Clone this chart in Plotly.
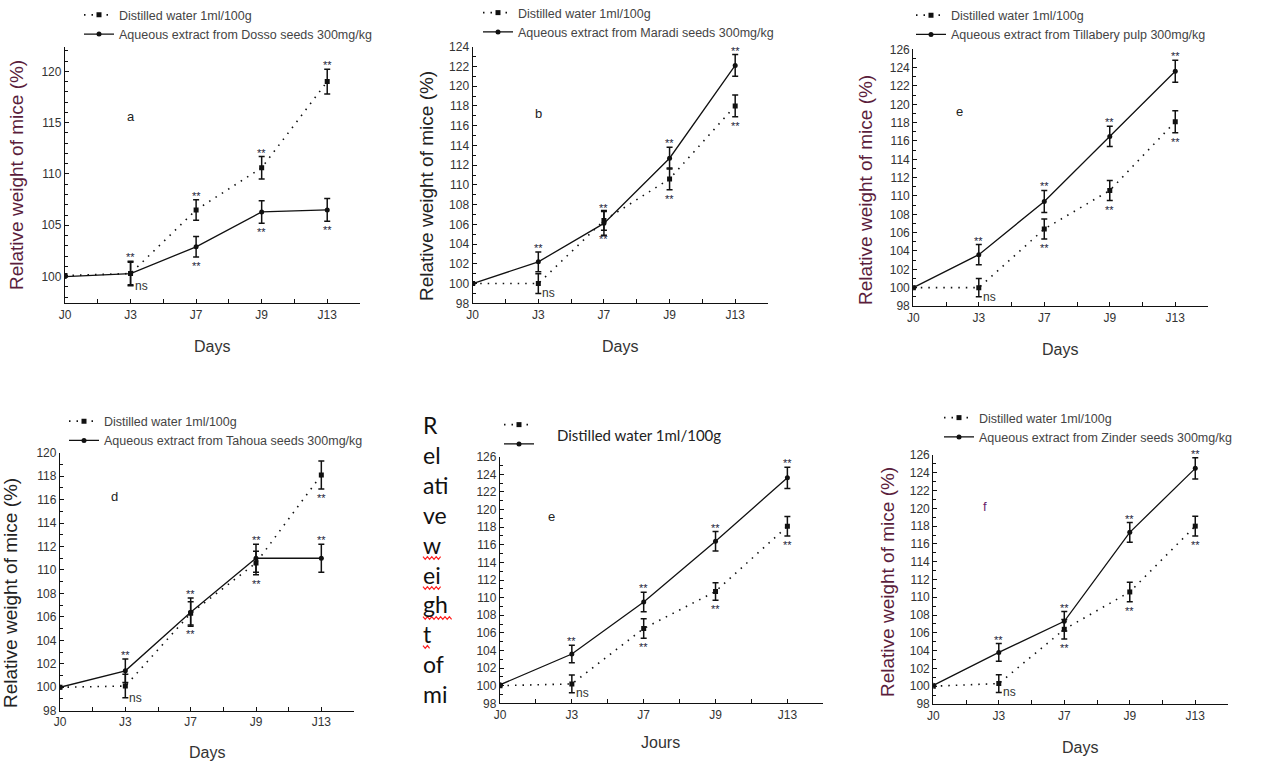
import plotly.graph_objects as go

W, H = 1280, 762

days = ["J0", "J3", "J7", "J9", "J13"]
day_idx = [0, 1, 2, 3, 4]

# Panel a - Dosso seeds
water_a = [100.1, 100.3, 106.5, 110.6, 119.0]
water_a_err = [0, 1.2, 1.0, 1.1, 1.2]
extract_a = [100.0, 100.3, 102.9, 106.3, 106.5]
extract_a_err = [0, 1.1, 1.0, 1.1, 1.1]

# Panel b - Maradi seeds
water_b = [100.0, 100.0, 106.4, 110.6, 118.0]
water_b_err = [0, 1.0, 1.0, 1.1, 1.1]
extract_b = [100.0, 102.2, 106.1, 112.7, 122.1]
extract_b_err = [0, 1.0, 1.2, 1.1, 1.1]

# Panel "e" (top right) - Tillabery pulp
water_c = [100.0, 100.0, 106.4, 110.6, 118.1]
water_c_err = [0, 1.0, 1.1, 1.1, 1.2]
extract_c = [100.0, 103.6, 109.4, 116.5, 123.6]
extract_c_err = [0, 1.1, 1.2, 1.1, 1.2]

# Panel d - Tahoua seeds
water_d = [100.0, 100.1, 106.3, 110.6, 118.1]
water_d_err = [0, 1.0, 1.0, 1.0, 1.2]
extract_d = [100.0, 101.4, 106.4, 111.0, 111.0]
extract_d_err = [0, 1.0, 1.2, 1.2, 1.2]

# Panel "e" (bottom middle)
water_e = [100.0, 100.2, 106.5, 110.7, 118.1]
water_e_err = [0, 1.0, 1.1, 1.0, 1.1]
extract_e = [100.1, 103.6, 109.5, 116.4, 123.6]
extract_e_err = [0, 1.0, 1.1, 1.1, 1.2]

# Panel f - Zinder seeds
water_f = [100.0, 100.3, 106.4, 110.6, 118.0]
water_f_err = [0, 1.0, 1.1, 1.1, 1.1]
extract_f = [100.1, 103.8, 107.3, 117.3, 124.5]
extract_f_err = [0, 1.0, 1.1, 1.1, 1.2]

water_label = "Distilled water 1ml/100g"
extract_labels = [
    "Aqueous extract from Dosso seeds 300mg/kg",
    "Aqueous extract from Maradi seeds 300mg/kg",
    "Aqueous extract from Tillabery pulp 300mg/kg",
    "Aqueous extract from Tahoua seeds 300mg/kg",
    " ",
    "Aqueous extract from Zinder seeds 300mg/kg",
]
panel_letters = ["a", "b", "e", "d", "e", "f"]
stars_std = [(1, "e", "up"), (2, "e", "up"), (2, "w", "down"), (3, "e", "up"),
             (3, "w", "down"), (4, "e", "up"), (4, "w", "down")]
stars_a = [(1, "w", "up"), (2, "w", "up"), (2, "e", "down"), (3, "w", "up"),
           (3, "e", "down"), (4, "w", "up"), (4, "e", "down")]

# ---- layout geometry (pixels) ----
panels = [
    dict(water=water_a, werr=water_a_err, ext=extract_a, eerr=extract_a_err,
         box=(65, 360, 46.7, 303.3), yr=[97.4, 122.4], dt=5, t0=100,
         leg=(79, 0.2), letter=(1.0, 115.6), stars=stars_a,
         ytitle=(17, 175, "#5a1d3c"), xtitle=(212, 347, "Days")),
    dict(water=water_b, werr=water_b_err, ext=extract_b, eerr=extract_b_err,
         box=(472.7, 768, 46.7, 303.3), yr=[98, 124], dt=2, t0=98,
         leg=(478, -2.0), letter=(1.0, 117.2), stars=stars_std,
         ytitle=(426, 186, "#222222"), xtitle=(620, 347, "Days")),
    dict(water=water_c, werr=water_c_err, ext=extract_c, eerr=extract_c_err,
         box=(913.3, 1208, 49.3, 306), yr=[98, 126], dt=2, t0=98,
         leg=(911, 0.5), letter=(0.71, 119.2), stars=stars_std,
         ytitle=(865, 190, "#5a1d3c"), xtitle=(1060, 349, "Days")),
    dict(water=water_d, werr=water_d_err, ext=extract_d, eerr=extract_d_err,
         box=(60, 354, 452.7, 710.7), yr=[98, 120], dt=2, t0=98,
         leg=(64, 406.5), letter=(0.84, 116.25), stars=stars_std,
         ytitle=(10, 593, "#222222"), xtitle=(207, 752, "Days")),
    dict(water=water_e, werr=water_e_err, ext=extract_e, eerr=extract_e_err,
         box=(500, 823.3, 456.7, 703.3), yr=[98, 126], dt=2, t0=98,
         leg=(499, 410), letter=(0.72, 119.2), stars=stars_std,
         ytitle=None, xtitle=(660, 742, "Jours")),
    dict(water=water_f, werr=water_f_err, ext=extract_f, eerr=extract_f_err,
         box=(933.3, 1228, 455, 704), yr=[98, 126], dt=2, t0=98,
         leg=(939, 403), letter=(0.79, 120.2), stars=stars_std,
         ytitle=(887, 582, "#5a1d3c"), xtitle=(1080, 747, "Days")),
]

INK = "#111111"
TICKFONT = dict(family="Liberation Sans, Arial", size=12, color="#333333")

fig = go.Figure()
annotations = []
shapes = []
layout = dict(width=W, height=H, margin=dict(l=0, r=0, t=0, b=0, autoexpand=False),
              autosize=False, paper_bgcolor="white", plot_bgcolor="white", showlegend=True)

for i, p in enumerate(panels):
    n = "" if i == 0 else str(i + 1)
    xa, ya = "x" + n, "y" + n
    legname = "legend" + n
    l, r, t, b = p["box"]
    layout["xaxis" + n] = dict(
        domain=[l / W, r / W], anchor=ya, range=[0, 4.5],
        tickmode="array", tickvals=day_idx, ticktext=days,
        ticks="inside", ticklen=4, tickwidth=1, tickcolor=INK,
        minor=dict(dtick=0.5, tick0=0, ticks="inside", ticklen=4, tickcolor=INK),
        showline=True, linecolor=INK, linewidth=1.3, showgrid=False, zeroline=False,
        tickfont=TICKFONT, fixedrange=True, automargin=False)
    layout["yaxis" + n] = dict(
        domain=[1 - b / H, 1 - t / H], anchor=xa, range=p["yr"],
        tickmode="linear", dtick=p["dt"], tick0=p["t0"],
        ticks="inside", ticklen=4, tickwidth=1, tickcolor=INK,
        minor=dict(dtick=1, ticks="inside", ticklen=3, tickcolor=INK),
        showline=True, linecolor=INK, linewidth=1.3, showgrid=False, zeroline=False,
        tickfont=TICKFONT, fixedrange=True, automargin=False)
    lx, ly = p["leg"]
    layout[legname] = dict(
        x=lx / W, y=1 - ly / H, xanchor="left", yanchor="top",
        bgcolor="rgba(0,0,0,0)", borderwidth=0, tracegroupgap=0,
        font=dict(family="Liberation Sans, Arial", size=12.5, color="#444444"))

    fig.add_trace(go.Scatter(
        x=day_idx, y=p["water"], xaxis=xa, yaxis=ya, legend=legname,
        name=(water_label if i != 4 else " "), mode="lines+markers",
        line=dict(color=INK, width=1.6, dash="1.5px,6px"),
        marker=dict(symbol="square", size=5, color=INK),
        error_y=dict(type="data", array=p["werr"], visible=True, color=INK,
                     thickness=1.5, width=3)))
    fig.add_trace(go.Scatter(
        x=day_idx, y=p["ext"], xaxis=xa, yaxis=ya, legend=legname,
        name=extract_labels[i], mode="lines+markers",
        line=dict(color=INK, width=1.3),
        marker=dict(symbol="circle", size=5, color=INK),
        error_y=dict(type="data", array=p["eerr"], visible=True, color=INK,
                     thickness=1.5, width=3)))

    # significance marks
    for (k, s, d) in p["stars"]:
        vals, errs = (p["water"], p["werr"]) if s == "w" else (p["ext"], p["eerr"])
        yv = vals[k] + errs[k] if d == "up" else vals[k] - errs[k]
        annotations.append(dict(
            x=k, y=yv, xref=xa, yref=ya, text="**", showarrow=False,
            xanchor="center", yanchor="middle", yshift=(4 if d == "up" else -9),
            font=dict(family="Liberation Sans, Arial", size=11, color="#1b1b3a")))
    annotations.append(dict(
        x=1, y=p["water"][1] - p["werr"][1], xref=xa, yref=ya, text="ns",
        showarrow=False, xanchor="left", yanchor="middle", xshift=2,
        font=dict(family="Liberation Sans, Arial", size=12, color="#333333")))

    # panel letter
    lxv, lyv = p["letter"]
    annotations.append(dict(
        x=lxv, y=lyv, xref=xa, yref=ya, text=panel_letters[i], showarrow=False,
        xanchor="center", yanchor="middle",
        font=dict(family="Liberation Sans, Arial", size=13,
                  color=("#6a1f6a" if panel_letters[i] == "f" else "#222222"))))

    # axis titles
    tx, ty, ttxt = p["xtitle"]
    annotations.append(dict(
        x=tx / W, y=1 - ty / H, xref="paper", yref="paper", text=ttxt,
        xanchor="center", yanchor="middle", showarrow=False,
        font=dict(family="Liberation Sans, Arial", size=16, color="#333333")))
    if p["ytitle"]:
        yx, yy, col = p["ytitle"]
        annotations.append(dict(
            x=yx / W, y=1 - yy / H, xref="paper", yref="paper",
            xanchor="center", yanchor="middle",
            text="Relative weight of mice (%)", textangle=-90, showarrow=False,
            font=dict(family="Liberation Sans, Arial", size=19, color=col)))

# Bottom-middle panel quirks: broken vertical y title and single legend text
annotations.append(dict(
    x=421 / W, y=1 - 409 / H, xref="paper", yref="paper", xanchor="left", yanchor="top",
    align="left", showarrow=False,
    text="R<br>el<br>ati<br>ve<br>w<br>ei<br>gh<br>t<br>of<br>mi",
    font=dict(family="Lato, Open Sans", size=23, color="#111111")))
annotations.append(dict(
    x=555 / W, y=1 - 435 / H, xref="paper", yref="paper", xanchor="left", yanchor="middle",
    showarrow=False, text="Distilled water 1ml/100g",
    font=dict(family="Lato, Open Sans", size=15, color="#222222")))

# red spell-check squiggles under "w", "ei", "gh", "t"
for (x0, x1, yy) in [(423, 441, 558), (423, 442, 588), (423, 452, 618), (423, 430, 647)]:
    pts = []
    xx, up = x0, True
    while xx <= x1:
        pts.append((xx, yy - 1.4 if up else yy + 1.4))
        xx += 2.2
        up = not up
    path = "M " + " L ".join(f"{px / W:.5f},{1 - py / H:.5f}" for px, py in pts)
    shapes.append(dict(type="path", path=path, xref="paper", yref="paper",
                       line=dict(color="#ff2020", width=1.2)))

layout["annotations"] = annotations
layout["shapes"] = shapes
fig.update_layout(**layout)
fig.write_html("out.html")
